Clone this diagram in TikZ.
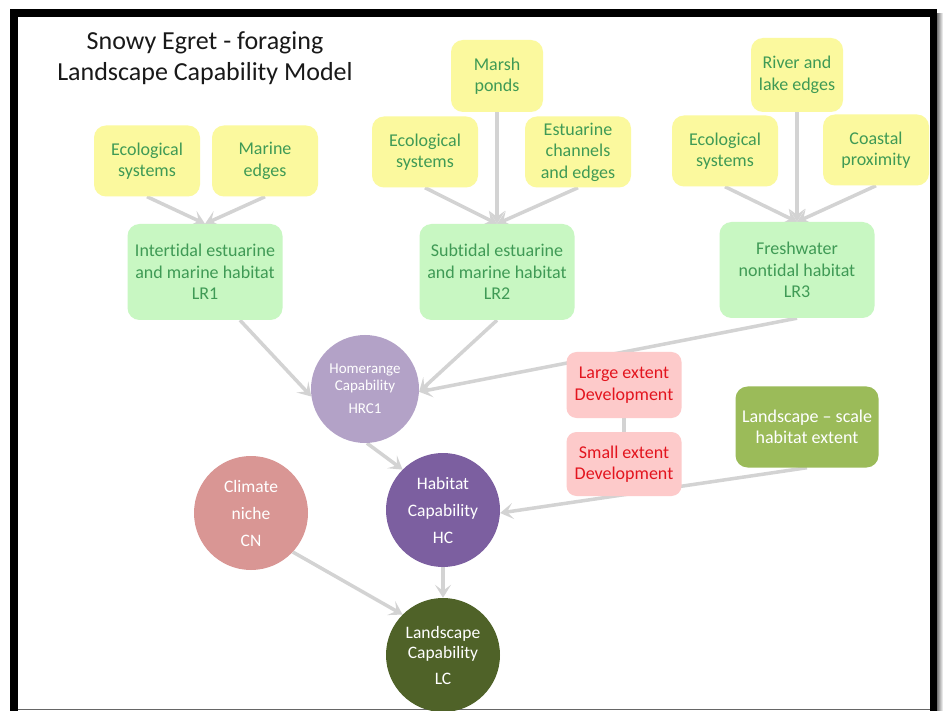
\documentclass[tikz,border=0pt]{standalone}
\usepackage{fontspec}
\setmainfont[Ligatures=NoCommon]{Carlito}
\usetikzlibrary{arrows.meta}
\definecolor{yfill}{HTML}{FBF99E}
\definecolor{gfill}{HTML}{C8F7C2}
\definecolor{gtext}{HTML}{3F9A55}
\definecolor{pfill}{HTML}{FDCACA}
\definecolor{ptext}{HTML}{E3141E}
\definecolor{hrcfill}{HTML}{B3A2C7}
\definecolor{hcfill}{HTML}{7C5FA0}
\definecolor{cnfill}{HTML}{D99694}
\definecolor{lcfill}{HTML}{4F6228}
\definecolor{lsfill}{HTML}{9BBB59}
\definecolor{arrgray}{HTML}{D3D3D3}
\pgfdeclarelayer{frame}
\pgfdeclarelayer{edges}
\pgfsetlayers{frame,edges,main}
\tikzset{
  boxtext/.style={align=center, font=\fontsize{18}{21.5}\selectfont, inner sep=1pt},
  ybox/.style={boxtext, rounded corners=12pt, fill=yfill, text=gtext, minimum width=106pt, minimum height=71pt},
  gbox/.style={boxtext, rounded corners=12pt, fill=gfill, text=gtext, minimum width=155pt, minimum height=96pt},
  pbox/.style={boxtext, rounded corners=10pt, fill=pfill, text=ptext, minimum width=115pt, minimum height=66pt},
  lsbox/.style={boxtext, rounded corners=12pt, fill=lsfill, text=white, minimum width=143pt, minimum height=81pt},
  circ/.style={circle, align=center, text=white, inner sep=0pt},
  arr/.style={draw=arrgray, line width=3.5pt, -{Stealth[length=13pt,width=16pt,inset=6pt]}},
  plainline/.style={draw=arrgray, line width=3.5pt},
}
\begin{document}
\begin{tikzpicture}[x=1pt,y=-1pt]
\useasboundingbox (0,0) rectangle (943,711);
\begin{pgfonlayer}{frame}
  \fill[white] (0,0) rectangle (943,711);
  \shade[left color=black!55, right color=white] (937,14) rectangle (943,711);
  \fill[black] (10,9) rectangle (937,711);
  \fill[white] (18,17) rectangle (930,711);
  \draw[black!60, line width=1pt] (18,709) -- (930,709);
\end{pgfonlayer}

% title
\node[font=\fontsize{26}{31}\selectfont, align=center, text=black!90] (title) at (205,58) {Snowy Egret - foraging\\Landscape Capability Model};

% yellow inputs
\node[ybox] (eco1) at (147,161) {Ecological\\systems};
\node[ybox] (marine) at (265,161) {Marine\\edges};
\node[ybox, minimum width=92pt, minimum height=72pt] (marsh) at (497,76) {Marsh\\ponds};
\node[ybox] (eco2) at (425,152) {Ecological\\systems};
\node[ybox] (estu) at (578,152) {Estuarine\\channels\\and edges};
\node[ybox, minimum width=92pt, minimum height=74pt] (river) at (797,75) {River and\\lake edges};
\node[ybox] (eco3) at (725,151) {Ecological\\systems};
\node[ybox] (coast) at (876,150) {Coastal\\proximity};

% green habitat boxes
\node[gbox] (lr1) at (205,272) {Intertidal estuarine\\and marine habitat\\LR1};
\node[gbox] (lr2) at (497,272) {Subtidal estuarine\\and marine habitat\\LR2};
\node[gbox] (lr3) at (797,270) {Freshwater\\nontidal habitat\\LR3};

% circles
\node[circ, fill=hrcfill, minimum size=108pt, font=\fontsize{15}{17}\selectfont] (hrc1) at (365,389) {Homerange\\Capability\\[6pt]HRC1};
\node[circ, fill=hcfill, minimum size=114pt, font=\fontsize{17.5}{27}\selectfont] (hc) at (443,510) {Habitat\\Capability\\HC};
\node[circ, fill=cnfill, minimum size=114pt, font=\fontsize{17.5}{27}\selectfont] (cn) at (251,513) {Climate\\niche\\CN};
\node[circ, fill=lcfill, minimum size=114pt, font=\fontsize{17.5}{20}\selectfont] (lc) at (443,655) {Landscape\\Capability\\[6pt]LC};

% development and extent
\node[pbox] (large) at (624,385) {Large extent\\Development};
\node[pbox, minimum height=64pt] (small) at (624,464) {Small extent\\Development};
\node[lsbox] (ls) at (807,427) {Landscape -- scale\\habitat extent};

\begin{pgfonlayer}{edges}
  \draw[arr] (eco1.south) -- (lr1.north);
  \draw[arr] (marine.south) -- (lr1.north);
  \draw[arr] (eco2.south) -- (lr2.north);
  \draw[arr] (marsh.south) -- (lr2.north);
  \draw[arr] (estu.south) -- (lr2.north);
  \draw[arr] (eco3.south) -- (lr3.north);
  \draw[arr] (river.south) -- (lr3.north);
  \draw[arr] (coast.south) -- (lr3.north);
  \draw[arr] (lr1.south) ++(35,0) -- (hrc1.188);
  \draw[arr] (lr2.south) -- (hrc1.-3);
  \draw[arr] (lr3.south) -- (hrc1.-3);
  \draw[arr] (hrc1.-88) -- (hc.135);
  \draw[arr] (ls.south) -- (hc.-3);
  \draw[plainline] (large.south) -- (small.north);
  \draw[arr] (hc.south) -- (lc.north);
  \draw[arr] (cn.-43) -- (lc.135);
\end{pgfonlayer}
\end{tikzpicture}
\end{document}
